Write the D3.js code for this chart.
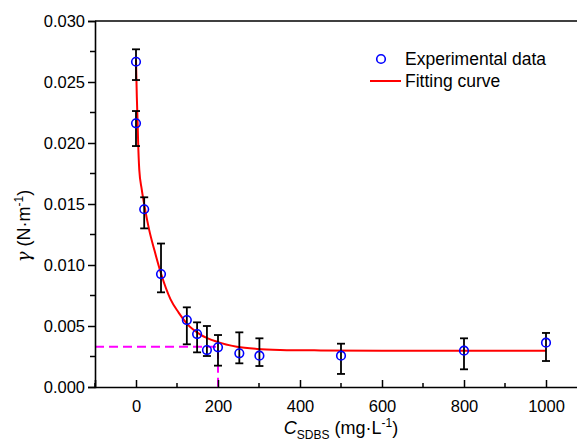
<!DOCTYPE html>
<html>
<head>
<meta charset="utf-8">
<script src="https://cdn.jsdelivr.net/npm/d3@7"></script>
<style>
  body { margin: 0; background: #fff; }
  svg { display: block; font-family: "Liberation Sans", Arial, sans-serif; }
</style>
</head>
<body>
<div id="chart"></div>
<script>
// Experimental points (x = C_SDBS in mg/L, y = gamma in N/m)
var concX = [0, 0, 20, 61, 124, 149, 173, 200, 252, 301, 500, 800, 1000]
var gamma = [0.02666, 0.02161, 0.01457, 0.00926, 0.00549, 0.00434, 0.00303, 0.00325, 0.00276, 0.00257, 0.00257, 0.00298, 0.00363]
var errHigh = [0.02768, 0.02262, 0.01555, 0.01176, 0.00653, 0.0053, 0.005, 0.00426, 0.00448, 0.00399, 0.00355, 0.00399, 0.00443]
var errLow = [0.02516, 0.01975, 0.01300, 0.00776, 0.0035, 0.00284, 0.00254, 0.00175, 0.00194, 0.00172, 0.00107, 0.00145, 0.00213]

// Fitting curve
var fitX = [0, 2, 4, 5, 8, 14, 22, 32, 45, 61, 84, 104, 124, 157, 198, 246, 295, 352, 450, 600, 800, 1000]
var fitY = [0.0268, 0.0238, 0.0216, 0.0203, 0.0178, 0.0162, 0.0146, 0.0129, 0.0112, 0.0093, 0.0072, 0.0061, 0.0052, 0.0043, 0.0037, 0.0033, 0.00312, 0.00304, 0.003, 0.00298, 0.00298, 0.00298]

// Reference (dashed) point
var refX = 200
var refY = 0.0033

var xTicks = [0, 200, 400, 600, 800, 1000]
var yTicks = [0, 0.005, 0.01, 0.015, 0.02, 0.025, 0.03]

var width = 577
var height = 442
var xScale = d3.scaleLinear().domain([-100, 1100]).range([95, 587])
var yScale = d3.scaleLinear().domain([0, 0.03]).range([387, 21])

var svg = d3.select('#chart').append('svg')
  .attr('width', width)
  .attr('height', height)

// Dashed guide lines
svg.append('path')
  .attr('d', 'M' + xScale(-100) + ',' + yScale(refY) + 'H' + xScale(refX) + 'V' + yScale(0))
  .attr('fill', 'none')
  .attr('stroke', '#ff00ff')
  .attr('stroke-width', 2)
  .attr('stroke-dasharray', '9,5')

// Axes
var xMinor = d3.range(-100, 1101, 100).filter(function (d) { return d % 200 !== 0 })
var yMinor = d3.range(0, 0.0301, 0.0025).filter(function (d, i) { return i % 2 === 1 })

var xAxis = svg.append('g')
  .attr('transform', 'translate(0,' + yScale(0) + ')')
  .call(d3.axisBottom(xScale).tickValues(xTicks).tickSize(-7).tickPadding(13).tickFormat(d3.format('d')))
xAxis.append('g').selectAll('line').data(xMinor).enter().append('line')
  .attr('x1', function (d) { return xScale(d) })
  .attr('x2', function (d) { return xScale(d) })
  .attr('y1', 0).attr('y2', -4)
  .attr('stroke', '#000').attr('stroke-width', 1.5)

var yAxis = svg.append('g')
  .attr('transform', 'translate(' + xScale(-100) + ',0)')
  .call(d3.axisLeft(yScale).tickValues(yTicks).tickSize(7).tickPadding(3).tickFormat(d3.format('.3f')))
yAxis.append('g').selectAll('line').data(yMinor).enter().append('line')
  .attr('y1', function (d) { return yScale(d) })
  .attr('y2', function (d) { return yScale(d) })
  .attr('x1', 0).attr('x2', -5)
  .attr('stroke', '#000').attr('stroke-width', 1.5)

svg.selectAll('.domain').attr('stroke', '#000').attr('stroke-width', 1.6)
svg.selectAll('.tick line').attr('stroke', '#000').attr('stroke-width', 1.5)
svg.selectAll('.tick text').attr('font-size', 16.5).attr('fill', '#000')
  .attr('font-family', '"Liberation Sans", Arial, sans-serif')

// Top frame line
svg.append('line')
  .attr('x1', xScale(-100)).attr('x2', xScale(1100))
  .attr('y1', yScale(0.03)).attr('y2', yScale(0.03))
  .attr('stroke', '#000').attr('stroke-width', 1.6)

// Fitting curve
var line = d3.line()
  .x(function (d, i) { return xScale(fitX[i]) })
  .y(function (d) { return yScale(d) })
  .curve(d3.curveMonotoneX)
svg.append('path')
  .datum(fitY)
  .attr('d', line)
  .attr('fill', 'none')
  .attr('stroke', '#ff0000')
  .attr('stroke-width', 2)

// Error bars
var capW = 4
var bars = svg.append('g').selectAll('g').data(concX).enter().append('g')
bars.append('line')
  .attr('x1', function (d) { return xScale(d) })
  .attr('x2', function (d) { return xScale(d) })
  .attr('y1', function (d, i) { return yScale(errLow[i]) })
  .attr('y2', function (d, i) { return yScale(errHigh[i]) })
bars.append('line')
  .attr('x1', function (d) { return xScale(d) - capW })
  .attr('x2', function (d) { return xScale(d) + capW })
  .attr('y1', function (d, i) { return yScale(errLow[i]) })
  .attr('y2', function (d, i) { return yScale(errLow[i]) })
bars.append('line')
  .attr('x1', function (d) { return xScale(d) - capW })
  .attr('x2', function (d) { return xScale(d) + capW })
  .attr('y1', function (d, i) { return yScale(errHigh[i]) })
  .attr('y2', function (d, i) { return yScale(errHigh[i]) })
bars.selectAll('line').attr('stroke', '#000').attr('stroke-width', 1.8)

// Points
svg.append('g').selectAll('circle').data(concX).enter().append('circle')
  .attr('cx', function (d) { return xScale(d) })
  .attr('cy', function (d, i) { return yScale(gamma[i]) })
  .attr('r', 4.3)
  .attr('fill', 'none')
  .attr('stroke', '#0000ff')
  .attr('stroke-width', 1.6)

// Legend
var legend = svg.append('g').attr('font-size', 17.5)
legend.append('circle')
  .attr('cx', 381).attr('cy', 59)
  .attr('r', 4.3).attr('fill', 'none')
  .attr('stroke', '#0000ff').attr('stroke-width', 1.6)
legend.append('text').attr('x', 405).attr('y', 65).text('Experimental data')
legend.append('line')
  .attr('x1', 370).attr('x2', 401).attr('y1', 81).attr('y2', 81)
  .attr('stroke', '#ff0000').attr('stroke-width', 2)
legend.append('text').attr('x', 405).attr('y', 87).text('Fitting curve')

// Axis titles
var xTitle = svg.append('text')
  .attr('x', 341).attr('y', 434)
  .attr('text-anchor', 'middle')
  .attr('font-size', 18)
xTitle.append('tspan').attr('font-style', 'italic').text('C')
xTitle.append('tspan').attr('font-size', 12).attr('dy', 5).text('SDBS')
xTitle.append('tspan').attr('dy', -5).text(' (mg\u00b7L')
xTitle.append('tspan').attr('font-size', 12).attr('dy', -7).text('-1')
xTitle.append('tspan').attr('dy', 7).text(')')

var yTitle = svg.append('text')
  .attr('transform', 'translate(30,226) rotate(-90)')
  .attr('text-anchor', 'middle')
  .attr('font-size', 18)
yTitle.append('tspan').attr('font-style', 'italic').attr('font-family', '"DejaVu Serif", serif').text('\u03b3')
yTitle.append('tspan').text(' (N\u00b7m')
yTitle.append('tspan').attr('font-size', 12).attr('dy', -7).text('-1')
yTitle.append('tspan').attr('dy', 7).text(')')
</script>
</body>
</html>
